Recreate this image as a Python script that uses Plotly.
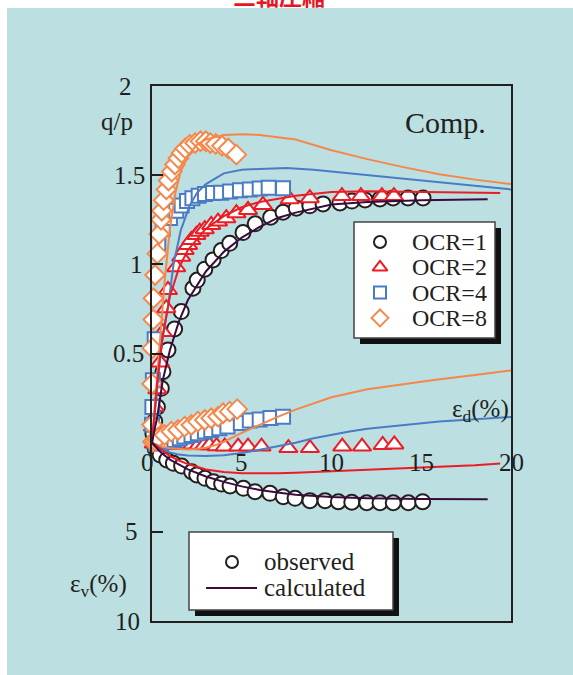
import plotly.graph_objects as go

# ---------------- data ----------------
# strain eps_d (%) and stress ratio q/p, observed
ocr1_qp_ed = [0.05, 0.15, 0.3, 0.52, 0.61, 0.89, 1.26, 1.63, 2.28, 2.52, 2.94, 3.40, 3.86, 4.33, 5.07, 5.75, 6.61, 7.30, 8.04, 8.79, 9.53, 10.47, 11.14, 11.87, 12.70, 13.43, 14.26, 15.10]
ocr1_qp = [0.05, 0.12, 0.20, 0.305, 0.398, 0.52, 0.638, 0.735, 0.866, 0.912, 0.973, 1.025, 1.077, 1.118, 1.178, 1.227, 1.264, 1.292, 1.315, 1.328, 1.339, 1.344, 1.355, 1.361, 1.367, 1.372, 1.372, 1.372]

ocr2_qp_ed = [0.05, 0.15, 0.3, 0.45, 0.6, 0.8, 0.89, 1.35, 1.63, 1.82, 2.01, 2.19, 2.47, 2.66, 2.94, 3.30, 3.68, 4.14, 4.70, 5.35, 6.18, 7.67, 8.79, 10.58, 11.64, 12.81, 13.48]
ocr2_qp = [0.09, 0.2, 0.3, 0.45, 0.62, 0.754, 0.856, 0.984, 1.043, 1.081, 1.109, 1.137, 1.165, 1.183, 1.197, 1.221, 1.24, 1.259, 1.287, 1.305, 1.333, 1.365, 1.371, 1.383, 1.383, 1.383, 1.383]

ocr4_qp_ed = [0.0, 0.02, 0.05, 0.15, 0.35, 0.6, 1.0, 1.35, 1.65, 1.95, 2.25, 2.6, 2.95, 3.4, 3.85, 4.35, 4.9, 5.45, 6.0, 6.5, 7.3]
ocr4_qp = [0.1, 0.2, 0.35, 0.58, 1.12, 1.2, 1.26, 1.30, 1.33, 1.355, 1.37, 1.385, 1.395, 1.40, 1.402, 1.408, 1.415, 1.42, 1.425, 1.43, 1.427]

ocr8_qp_ed = [0.0, 0.0, 0.02, 0.07, 0.08, 0.17, 0.3, 0.4, 0.5, 0.55, 0.65, 0.8, 0.92, 1.1, 1.28, 1.47, 1.65, 1.85, 2.1, 2.4, 2.7, 3.0, 3.25, 3.55, 3.9, 4.25, 4.7]
ocr8_qp = [0.1, 0.33, 0.53, 0.69, 0.81, 0.94, 1.06, 1.17, 1.25, 1.3, 1.36, 1.42, 1.47, 1.52, 1.56, 1.595, 1.625, 1.65, 1.67, 1.68, 1.69, 1.69, 1.68, 1.675, 1.665, 1.65, 1.615]

# strain eps_d (%) and volumetric strain eps_v (%), observed (compression positive)
ocr1_ev_ed = [0.17, 0.45, 0.82, 1.19, 1.65, 2.21, 2.49, 2.95, 3.42, 3.88, 4.35, 5.09, 5.74, 6.57, 7.31, 7.97, 8.8, 9.64, 10.38, 11.13, 11.96, 12.7, 13.44, 14.28, 15.08]
ocr1_ev = [0.31, 0.69, 0.97, 1.16, 1.31, 1.63, 1.81, 2.0, 2.19, 2.32, 2.43, 2.56, 2.75, 2.84, 3.03, 3.12, 3.25, 3.25, 3.31, 3.34, 3.37, 3.37, 3.37, 3.37, 3.31]

ocr2_ev_ed = [0.1, 0.3, 0.6, 0.9, 1.25, 1.6, 1.9, 2.25, 2.6, 2.9, 3.2, 3.6, 4.05, 4.8, 5.35, 6.1, 7.6, 8.8, 10.6, 11.7, 12.85, 13.5]
ocr2_ev = [0.05, 0.1, 0.12, 0.12, 0.13, 0.13, 0.1, 0.1, 0.12, 0.15, 0.15, 0.2, 0.22, 0.22, 0.22, 0.22, 0.3, 0.3, 0.22, 0.22, 0.13, 0.1]

ocr4_ev_ed = [0.2, 0.5, 0.9, 1.25, 1.55, 1.8, 2.2, 2.55, 2.95, 3.3, 3.75, 4.2, 4.95, 5.45, 6.0, 6.6, 7.3]
ocr4_ev = [0.05, 0.03, -0.06, -0.15, -0.25, -0.34, -0.43, -0.53, -0.62, -0.71, -0.81, -0.9, -1.1, -1.25, -1.3, -1.38, -1.46]

ocr8_ev_ed = [0.05, 0.15, 0.25, 0.33, 0.7, 1.08, 1.45, 1.82, 2.19, 2.56, 2.94, 3.3, 3.68, 3.96, 4.33, 4.75]
ocr8_ev = [-0.05, -0.12, -0.2, -0.25, -0.43, -0.62, -0.71, -0.9, -0.99, -1.18, -1.27, -1.37, -1.46, -1.65, -1.74, -1.88]

# calculated curves
calc1_qp_ed = [0, 0.3, 0.6, 1, 1.5, 2, 3, 4, 5, 6, 7, 8, 10, 12, 15, 18.7]
calc1_qp = [0, 0.15, 0.35, 0.52, 0.68, 0.80, 0.96, 1.07, 1.15, 1.21, 1.26, 1.29, 1.335, 1.35, 1.36, 1.365]
calc2_qp_ed = [0, 0.3, 0.6, 1, 1.5, 2, 3, 4, 5, 6, 8, 10, 12, 14, 19.4]
calc2_qp = [0, 0.35, 0.6, 0.82, 0.98, 1.08, 1.2, 1.27, 1.32, 1.35, 1.385, 1.405, 1.41, 1.408, 1.40]
calc4_qp_ed = [0, 0.25, 0.5, 0.9, 1.2, 1.6, 2.1, 2.5, 3.0, 4, 5, 6, 7.5, 9, 10.5, 12, 14, 16, 18, 20]
calc4_qp = [0, 0.26, 0.53, 0.77, 1.0, 1.19, 1.33, 1.40, 1.45, 1.51, 1.53, 1.535, 1.54, 1.53, 1.515, 1.50, 1.48, 1.46, 1.44, 1.42]
calc8_qp_ed = [0, 0.2, 0.45, 0.7, 1.0, 1.3, 1.6, 2, 2.5, 3, 4, 5, 6, 7, 8, 10, 12, 14, 16, 18, 20]
calc8_qp = [0, 0.25, 0.6, 0.9, 1.2, 1.4, 1.52, 1.61, 1.67, 1.70, 1.725, 1.73, 1.725, 1.712, 1.70, 1.64, 1.59, 1.545, 1.505, 1.475, 1.45]

calc1_ev_ed = [0, 0.5, 1, 2, 3, 4, 5, 6, 7, 8, 10, 12, 15, 18.7]
calc1_ev = [0, 0.55, 0.95, 1.5, 1.9, 2.2, 2.45, 2.65, 2.8, 2.92, 3.05, 3.12, 3.16, 3.17]
calc2_ev_ed = [0, 0.5, 1, 1.5, 2, 3, 4, 5, 6, 7, 8, 10, 12, 14, 15.7, 18, 19.4]
calc2_ev = [0, 0.4, 0.75, 1.0, 1.2, 1.5, 1.65, 1.72, 1.73, 1.72, 1.68, 1.58, 1.52, 1.44, 1.38, 1.27, 1.17]
calc4_ev_ed = [0, 0.5, 1, 1.5, 2, 3, 4, 5, 6, 7, 8, 9, 10, 11, 12, 14, 16, 18, 20]
calc4_ev = [0, 0.35, 0.55, 0.67, 0.72, 0.75, 0.7, 0.58, 0.4, 0.2, 0.0, -0.25, -0.45, -0.62, -0.78, -1.0, -1.18, -1.32, -1.44]
calc8_ev_ed = [0, 0.5, 1, 1.5, 2, 2.5, 3, 3.5, 4, 5, 6, 7, 8, 9, 10, 12, 14, 15.7, 18, 20]
calc8_ev = [0, 0.2, 0.32, 0.37, 0.38, 0.35, 0.28, 0.15, -0.05, -0.55, -1.0, -1.45, -1.85, -2.2, -2.55, -3.0, -3.3, -3.52, -3.8, -4.05]

x_tick_vals = [0, 5, 10, 15, 20]
x_tick_text = ["0", "5", "10", "15", "20"]
y_tick_vals = [2, 1.5, 1, 0.5, -0.5, -1]
y_tick_text = ["2", "1.5", "1", "0.5", "5", "10"]

series_names = ["OCR=1", "OCR=2", "OCR=4", "OCR=8"]
legend2_names = ["observed", "calculated"]

# ---------------- styling ----------------
TEAL = "#bcdfe2"
FRAME = "#231f20"
COLORS = ["#231f20", "#ec1c24", "#4a7cc4", "#f5874a"]
LINE_COLORS = ["#3a0b3d", "#ec1c24", "#4a7cc4", "#f5874a"]
SYMBOLS = ["circle", "triangle-up", "square", "diamond"]
SIZES = [15, 16, 14, 15]
KEY_SIZES = [12, 13, 12, 13]
SERIF = "Liberation Serif"

W, H = 573, 675
L, R, T, B = 152, 62, 86, 54
PW, PH = W - L - R, H - T - B
X_RANGE = [0, 20]
Y_RANGE = [-1, 2]


def ev_to_y(vals):
    # the lower half of the axis shows eps_v downward: 5 % = 0.5 units
    return [-v / 10.0 for v in vals]


def px_x(p):
    return (p - L) / PW


def px_y(p):
    return 1 - (p - T) / PH


def pxd_x(p):
    # page pixel -> data x (used only to place legend keys)
    return X_RANGE[0] + px_x(p) * (X_RANGE[1] - X_RANGE[0])


def pxd_y(p):
    return Y_RANGE[0] + px_y(p) * (Y_RANGE[1] - Y_RANGE[0])


fig = go.Figure()

obs = [
    (ocr1_qp_ed, ocr1_qp, ocr1_ev_ed, ocr1_ev),
    (ocr2_qp_ed, ocr2_qp, ocr2_ev_ed, ocr2_ev),
    (ocr4_qp_ed, ocr4_qp, ocr4_ev_ed, ocr4_ev),
    (ocr8_qp_ed, ocr8_qp, ocr8_ev_ed, ocr8_ev),
]
calc = [
    (calc1_qp_ed, calc1_qp, calc1_ev_ed, calc1_ev),
    (calc2_qp_ed, calc2_qp, calc2_ev_ed, calc2_ev),
    (calc4_qp_ed, calc4_qp, calc4_ev_ed, calc4_ev),
    (calc8_qp_ed, calc8_qp, calc8_ev_ed, calc8_ev),
]

for i, (xq, yq, xe, ye) in enumerate(obs):
    mk = dict(symbol=SYMBOLS[i], size=SIZES[i], color="white",
              line=dict(color=COLORS[i], width=2))
    fig.add_trace(go.Scatter(x=xq, y=yq, mode="markers", marker=mk, name=series_names[i],
                             showlegend=False, cliponaxis=False))
    fig.add_trace(go.Scatter(x=xe, y=ev_to_y(ye), mode="markers", marker=mk,
                             name=series_names[i], showlegend=False, cliponaxis=False))

for i in [3, 2, 1, 0]:
    xq, yq, xe, ye = calc[i]
    ln = dict(color=LINE_COLORS[i], width=2)
    fig.add_trace(go.Scatter(x=xq, y=yq, mode="lines", line=ln, showlegend=False))
    fig.add_trace(go.Scatter(x=xe, y=ev_to_y(ye), mode="lines", line=ln, showlegend=False))

# ---------- hand-made legends ----------
LEG1 = dict(x0=354, y0=222, x1=495, y1=338, key_x=380, text_x=410, row0=242, dy=25.3)
LEG2 = dict(x0=189, y0=532, x1=393, y1=610, key_x=232, line_x0=206, line_x1=257,
            text_x=262, row0=562, dy=26)

for i, name in enumerate(series_names):
    ky = LEG1["row0"] + i * LEG1["dy"]
    fig.add_trace(go.Scatter(
        x=[pxd_x(LEG1["key_x"])], y=[pxd_y(ky)], mode="markers",
        marker=dict(symbol=SYMBOLS[i], size=KEY_SIZES[i], color="white",
                    line=dict(color=COLORS[i], width=2)),
        showlegend=False, hoverinfo="skip", cliponaxis=False))
fig.add_trace(go.Scatter(
    x=[pxd_x(LEG2["key_x"])], y=[pxd_y(LEG2["row0"])], mode="markers",
    marker=dict(symbol="circle", size=12, color="white", line=dict(color=COLORS[0], width=2)),
    showlegend=False, hoverinfo="skip", cliponaxis=False))
fig.add_trace(go.Scatter(
    x=[pxd_x(LEG2["line_x0"]), pxd_x(LEG2["line_x1"])],
    y=[pxd_y(LEG2["row0"] + LEG2["dy"])] * 2,
    mode="lines", line=dict(color=LINE_COLORS[0], width=2),
    showlegend=False, hoverinfo="skip", cliponaxis=False))

shapes = []
# teal panel
shapes.append(dict(type="rect", xref="paper", yref="paper", x0=px_x(7), x1=px_x(W + 5),
                   y0=px_y(H + 5), y1=px_y(8), fillcolor=TEAL, line=dict(width=0), layer="below"))
for lg in (LEG1, LEG2):
    shapes.append(dict(type="rect", xref="paper", yref="paper",
                       x0=px_x(lg["x0"] + 6), x1=px_x(lg["x1"] + 6),
                       y0=px_y(lg["y1"] + 6), y1=px_y(lg["y0"] + 6),
                       fillcolor="#111111", line=dict(width=0), layer="below"))
    shapes.append(dict(type="rect", xref="paper", yref="paper",
                       x0=px_x(lg["x0"]), x1=px_x(lg["x1"]),
                       y0=px_y(lg["y1"]), y1=px_y(lg["y0"]),
                       fillcolor="white", line=dict(color="#444444", width=1.5), layer="below"))

ann = []
font_t = dict(family=SERIF, size=25, color=FRAME)
y_label_right = [134, 147, 145, 146, 140, 142]
for v, t, xr in zip(y_tick_vals, y_tick_text, y_label_right):
    ann.append(dict(x=px_x(xr), y=v, xref="paper", yref="y", text=t, showarrow=False,
                    xanchor="right", yanchor="middle", font=font_t))
x_label_shift = [-5, 0, 0, 0, 0]
for v, t, sh in zip(x_tick_vals, x_tick_text, x_label_shift):
    ann.append(dict(x=v, y=px_y(462), xref="x", yref="paper", text=t, showarrow=False,
                    xanchor="center", yanchor="middle", xshift=sh, font=font_t))


def label(xp, yp, text, size, xanchor="center", color=FRAME, family=SERIF):
    return dict(x=px_x(xp), y=px_y(yp), xref="paper", yref="paper", text=text,
                showarrow=False, xanchor=xanchor, yanchor="middle",
                font=dict(family=family, size=size, color=color))


ann.append(label(117, 121, "q/p", 25))
ann.append(label(98, 585, "ε<sub>v</sub>(%)", 25))
ann.append(label(511, 410, "ε<sub>d</sub>(%)", 25, xanchor="right"))
ann.append(label(445, 122, "Comp.", 30))
ann.append(label(279, -5, "<b>三軸圧縮</b>", 23, color="#e8141e", family="Noto Sans CJK JP"))

for i, name in enumerate(series_names):
    ann.append(label(LEG1["text_x"], LEG1["row0"] + i * LEG1["dy"], name, 24, xanchor="left"))
for i, name in enumerate(legend2_names):
    ann.append(label(LEG2["text_x"], LEG2["row0"] + i * LEG2["dy"] - 1, name, 25, xanchor="left"))

fig.update_layout(
    width=W, height=H,
    margin=dict(l=L, r=R, t=T, b=B, pad=0),
    paper_bgcolor="white", plot_bgcolor="rgba(0,0,0,0)",
    showlegend=False,
    xaxis=dict(range=X_RANGE, showline=True, mirror=True, linecolor=FRAME, linewidth=2,
               showgrid=False, zeroline=False, ticks="", showticklabels=False, fixedrange=True),
    yaxis=dict(range=Y_RANGE, showline=True, mirror=True, linecolor=FRAME, linewidth=2,
               showgrid=False, zeroline=False, ticks="inside", ticklen=11, tickwidth=1.5,
               tickcolor=FRAME, tickvals=[1.5, 1, 0.5, -0.5], showticklabels=False,
               fixedrange=True),
    xaxis2=dict(range=X_RANGE, overlaying="x", anchor="free", position=1 / 3,
                showline=True, linecolor=FRAME, linewidth=2, showgrid=False, zeroline=False,
                ticks="inside", ticklen=12, tickwidth=1.5, tickcolor=FRAME,
                tickvals=[5, 10, 15], showticklabels=False, fixedrange=True),
    shapes=shapes,
    annotations=ann,
)

fig.write_html("out.html", config={"displayModeBar": False},
               post_script="document.body.style.margin='0px';")
